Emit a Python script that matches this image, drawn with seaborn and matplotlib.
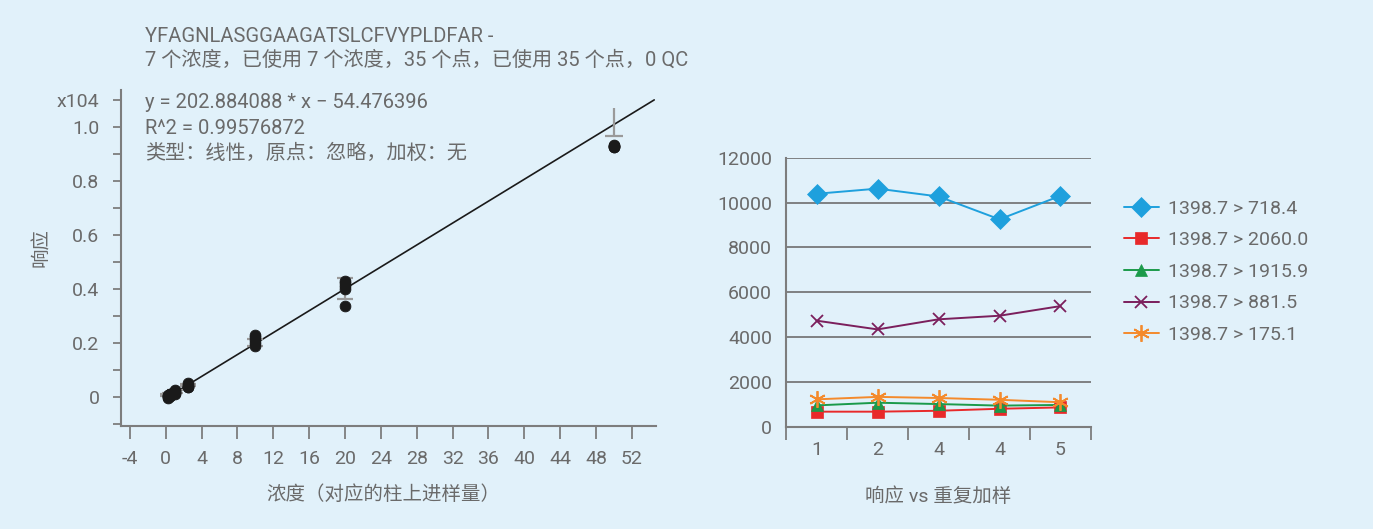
import matplotlib
matplotlib.use("Agg")
import matplotlib.pyplot as plt
import seaborn as sns
import numpy as np
import pandas as pd

# ---- dados: curva de calibração (resposta em unidades de 1e4) ----
conc_levels = [0.25, 0.5, 1.0, 2.5, 10, 20, 50]
replicas = [
    [0.000, 0.003, -0.004, 0.006, 0.002],
    [0.005, 0.010, 0.008, 0.003, 0.012],
    [0.015, 0.020, 0.012, 0.025, 0.018],
    [0.035, 0.045, 0.040, 0.050, 0.038],
    [0.190, 0.200, 0.210, 0.220, 0.228],
    [0.400, 0.410, 0.420, 0.430, 0.335],
    [0.925, 0.930, 0.928, 0.932, 0.926],
]
err_center = [0.008, 0.012, 0.020, 0.045, 0.203, 0.403, 1.018]
err_low = [0.004, 0.004, 0.004, 0.003, 0.013, 0.040, 0.051]
err_high = [0.004, 0.004, 0.004, 0.003, 0.012, 0.039, 0.052]
slope = 202.884088
intercept = -54.476396
fit_range = [0.0, 54.5]

# ---- dados: resposta vs réplicas ----
rep_labels = ["1", "2", "4", "4", "5"]
series_names = ["1398.7 > 718.4", "1398.7 > 2060.0", "1398.7 > 1915.9",
                "1398.7 > 881.5", "1398.7 > 175.1"]
s_718 = [10390, 10620, 10270, 9250, 10300]
s_2060 = [670, 670, 710, 800, 860]
s_1915 = [950, 1070, 1010, 940, 970]
s_881 = [4730, 4340, 4790, 4950, 5380]
s_175 = [1220, 1330, 1280, 1200, 1090]

bg = "#e1f1fa"
txt = "#6a6a6a"
axc = "#7d7d7d"

sns.set_theme(style="white")
plt.rcParams["font.family"] = ["Roboto", "Noto Sans CJK SC", "DejaVu Sans"]
plt.rcParams["axes.unicode_minus"] = True
fs = 14

fig = plt.figure(figsize=(13.73, 5.29), dpi=100, facecolor=bg)

# ================= painel esquerdo =================
ax1 = fig.add_axes([0.0881, 0.1947, 0.3897, 0.6352])
ax1.set_facecolor(bg)

fit_x = np.array(fit_range)
fit_y = (slope * fit_x + intercept) / 1e4
sns.lineplot(x=fit_x, y=fit_y, ax=ax1, color="#1a1a1a", lw=1.2)

# barras de erro (a de 50 só tem a tampa de baixo)
ax1.errorbar(conc_levels[:-1], err_center[:-1], yerr=[err_low[:-1], err_high[:-1]], fmt="none",
             ecolor="#9a9a9a", elinewidth=1.6, capsize=6, capthick=1.6, zorder=3)
ax1.errorbar(conc_levels[-1:], err_center[-1:], yerr=[err_low[-1:], err_high[-1:]], fmt="none",
             ecolor="#9a9a9a", elinewidth=1.6, capsize=0, zorder=3)
ax1.errorbar(conc_levels[-1:], [err_center[-1] - err_low[-1]], xerr=[[1.0], [1.0]], fmt="none",
             ecolor="#9a9a9a", elinewidth=1.6, capsize=0, zorder=3)

pts = pd.DataFrame({
    "conc": np.repeat(conc_levels, [len(r) for r in replicas]),
    "resp": np.concatenate(replicas),
})
sns.scatterplot(data=pts, x="conc", y="resp", ax=ax1, color="#1a1a1a",
                s=60, edgecolor="#1a1a1a", zorder=4)

ax1.set_xlim(-5, 54.7)
ax1.set_ylim(-0.108, 1.137)
xt = list(range(-4, 53, 4))
ax1.set_xticks(xt)
ax1.set_xticklabels([str(v) for v in xt])
yt = [round(-0.1 + 0.1 * i, 1) for i in range(13)]
ylab = {0.0: "0", 0.2: "0.2", 0.4: "0.4", 0.6: "0.6", 0.8: "0.8", 1.0: "1.0", 1.1: "x104"}
ax1.set_yticks(yt)
ax1.set_yticklabels([ylab.get(v, "") for v in yt])
ax1.tick_params(axis="x", bottom=True, direction="out", length=9, width=1.3, color=axc,
                pad=8, labelsize=fs, labelcolor=txt)
ax1.tick_params(axis="y", left=True, direction="out", length=5.5, width=1.3, color=axc,
                pad=10, labelsize=fs, labelcolor=txt)
for s in ["top", "right"]:
    ax1.spines[s].set_visible(False)
for s in ["left", "bottom"]:
    ax1.spines[s].set_color(axc)
    ax1.spines[s].set_linewidth(1.5)
ax1.set_xlabel("浓度（对应的柱上进样量）", fontsize=fs, color=txt)
ax1.xaxis.set_label_coords(0.49, -0.175)
ax1.set_ylabel("响应", fontsize=fs, color=txt)
ax1.yaxis.set_label_coords(-0.13, 0.53)

fs_t = 14.5
fig.text(145 / 1373, 1 - 36 / 529, "YFAGNLASGGAAGATSLCFVYPLDFAR -", fontsize=fs_t, color=txt, va="center")
fig.text(145 / 1373, 1 - 60 / 529, "7 个浓度，已使用 7 个浓度，35 个点，已使用 35 个点，0 QC",
         fontsize=fs_t, color=txt, va="center")
fig.text(145 / 1373, 1 - 102 / 529, f"y = {slope:.6f} * x \u2212 {abs(intercept):.6f}",
         fontsize=fs_t, color=txt, va="center")
fig.text(145 / 1373, 1 - 128 / 529, "R^2 = 0.99576872", fontsize=fs_t, color=txt, va="center")
fig.text(145 / 1373, 1 - 153 / 529, "类型：线性，原点：忽略，加权：无", fontsize=fs_t, color=txt, va="center")

# ================= painel direito =================
ax2 = fig.add_axes([0.5725, 0.1934, 0.2221, 0.5085])
ax2.set_facecolor(bg)
xpos = np.arange(len(rep_labels))
series_vals = [s_718, s_2060, s_1915, s_881, s_175]
colors = ["#1ea0dd", "#e8292a", "#1b9a4a", "#7b1f5c", "#f48a2c"]
markers = ["D", "s", "^", "x", (6, 2, 0)]
msizes = [10, 9, 9, 9, 12]
for name, vals, c, m, ms in zip(series_names, series_vals, colors, markers, msizes):
    sns.lineplot(x=xpos, y=vals, ax=ax2, color=c, marker=m, markersize=ms,
                 markeredgecolor=c, markeredgewidth=1.3 if m in ("x", (6, 2, 0)) else 0.5,
                 lw=1.4, label=name)

ax2.set_xlim(-0.5, 4.5)
ax2.set_ylim(0, 12000)
ax2.set_yticks(range(0, 12001, 2000))
ax2.yaxis.grid(True, color="#6e6e6e", lw=1.2)
ax2.set_axisbelow(True)
ax2.set_xticks(xpos)
ax2.set_xticklabels(rep_labels)
ax2.set_xticks(np.arange(-0.5, 4.6, 1.0), minor=True)
ax2.tick_params(axis="x", which="major", length=0, pad=10, labelsize=fs, labelcolor=txt)
ax2.tick_params(axis="x", which="minor", bottom=True, direction="out", length=9, width=1.3, color=axc)
ax2.tick_params(axis="y", length=0, pad=10, labelsize=fs, labelcolor=txt)
for s in ["top", "right"]:
    ax2.spines[s].set_visible(False)
for s in ["left", "bottom"]:
    ax2.spines[s].set_color(axc)
    ax2.spines[s].set_linewidth(1.5)
ax2.set_xlabel("响应 vs 重复加样", fontsize=fs, color=txt)
ax2.xaxis.set_label_coords(0.5, -0.225)
ax2.set_ylabel("")

leg = ax2.legend(loc="upper left", bbox_to_anchor=(1106 / 1373, 1 - 182 / 529),
                 bbox_transform=fig.transFigure, frameon=False, fontsize=fs,
                 handlelength=1.8, handletextpad=0.5, labelspacing=0.7)
for t in leg.get_texts():
    t.set_color(txt)

fig.savefig("out.png", dpi=100, facecolor=bg)
